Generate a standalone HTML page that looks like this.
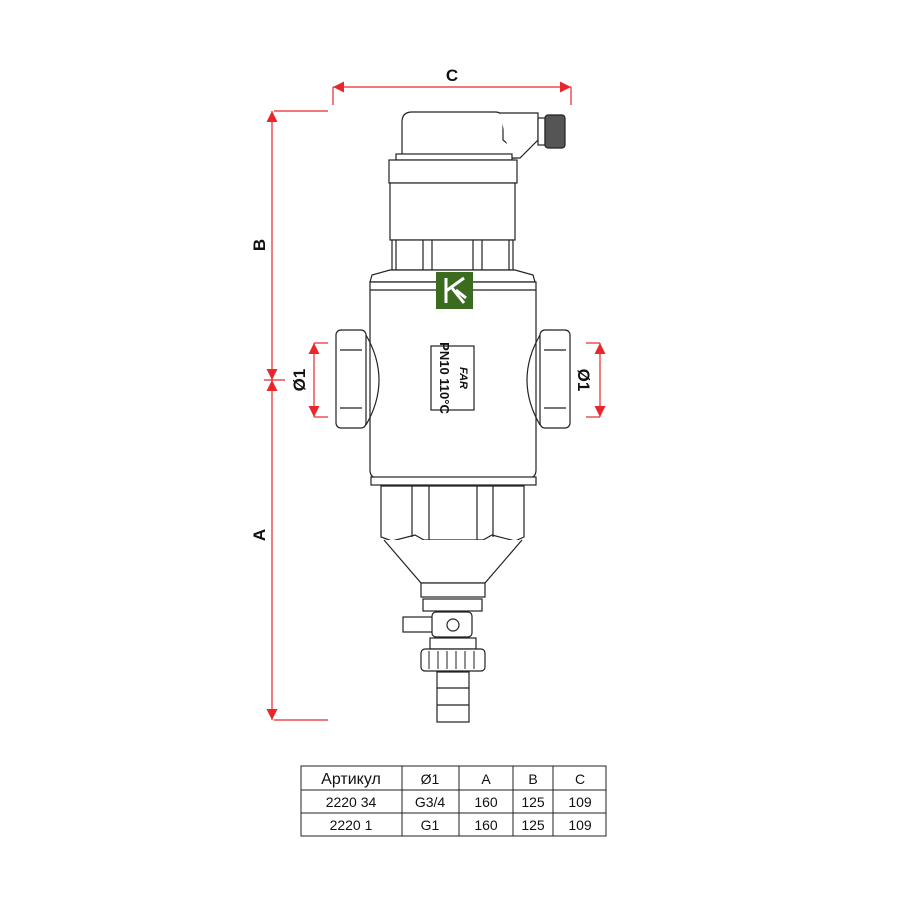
<!DOCTYPE html>
<html><head><meta charset="utf-8"><style>
body{margin:0;background:#fff;width:900px;height:900px;overflow:hidden}
svg{display:block}
</style></head><body>
<svg width="900" height="900" viewBox="0 0 900 900" xmlns="http://www.w3.org/2000/svg">
<defs>
<marker id="ar" viewBox="0 0 10 10" refX="10" refY="5" markerWidth="18" markerHeight="11" markerUnits="userSpaceOnUse" orient="auto-start-reverse"><path d="M0,0 L10,5 L0,10 z" fill="#e8262b"/></marker>
</defs>
<g stroke="#e8262b" stroke-width="1.2" fill="none">
<line x1="333" y1="87" x2="571" y2="87" marker-start="url(#ar)" marker-end="url(#ar)"/>
<line x1="333" y1="87" x2="333" y2="105"/><line x1="571" y1="87" x2="571" y2="105"/>
<line x1="274" y1="111" x2="328" y2="111"/>
<line x1="272" y1="111" x2="272" y2="380" marker-start="url(#ar)" marker-end="url(#ar)"/>
<line x1="272" y1="380" x2="272" y2="720" marker-start="url(#ar)" marker-end="url(#ar)"/>
<line x1="264" y1="380" x2="285" y2="380"/>
<line x1="274" y1="720" x2="328" y2="720"/>
<line x1="314" y1="343" x2="328" y2="343"/><line x1="314" y1="417" x2="328" y2="417"/>
<line x1="314" y1="343" x2="314" y2="417" marker-start="url(#ar)" marker-end="url(#ar)"/>
<line x1="586" y1="343" x2="600" y2="343"/><line x1="586" y1="417" x2="600" y2="417"/>
<line x1="600" y1="343" x2="600" y2="417" marker-start="url(#ar)" marker-end="url(#ar)"/>
</g>
<g font-family="Liberation Sans, sans-serif" font-weight="bold" font-size="17" fill="#111">
<text x="452" y="81" text-anchor="middle">C</text>
<text transform="translate(265,245) rotate(-90)" text-anchor="middle">B</text>
<text transform="translate(265,535) rotate(-90)" text-anchor="middle">A</text>
<text transform="translate(305,380) rotate(-90)" text-anchor="middle">Ø1</text>
<text transform="translate(578,380) rotate(90)" text-anchor="middle">Ø1</text>
</g>
<g stroke="#222" stroke-width="1.2" fill="#fff">
<path d="M402,158 V122 Q402,112 412,112 H495 Q503,112 503,120 V140 L515,150 V158 Z"/>
<path d="M500,113 H538 V140 L520,158 H510"/>
<rect x="538" y="118" width="7" height="27"/>
<rect x="545" y="115" width="20" height="33" rx="3" fill="#555"/>
<rect x="396" y="154" width="116" height="6"/>
<rect x="389" y="160" width="128" height="23"/>
<rect x="390" y="183" width="125" height="57"/>
<rect x="392" y="240" width="121" height="30"/>
<line x1="396" y1="240" x2="396" y2="270"/><line x1="423" y1="240" x2="423" y2="270"/>
<line x1="432" y1="240" x2="432" y2="270"/><line x1="473" y1="240" x2="473" y2="270"/>
<line x1="482" y1="240" x2="482" y2="270"/><line x1="509" y1="240" x2="509" y2="270"/>
<path d="M370,282 L372,275 L390,270 H515 L533,275 L535,282 Z"/>
<path d="M370,282 H536 V470 Q536,478 528,478 H378 Q370,478 370,470 Z"/>
<line x1="370" y1="290" x2="536" y2="290"/>
<path d="M366,335 Q392,380 366,425" fill="none"/>
<path d="M540,335 Q514,380 540,425" fill="none"/>
<rect x="336" y="330" width="30" height="98" rx="5"/>
<line x1="340" y1="350" x2="362" y2="350"/><line x1="340" y1="408" x2="362" y2="408"/>
<rect x="540" y="330" width="30" height="98" rx="5"/>
<line x1="544" y1="350" x2="566" y2="350"/><line x1="544" y1="408" x2="566" y2="408"/>
<rect x="431" y="346" width="43" height="64"/>
<rect x="371" y="477" width="165" height="8"/>
<path d="M381,486 H524 V537 L515,541 L492,535 L483,540 H424 L415,535 L392,541 L381,537 Z"/>
<line x1="412" y1="486" x2="412" y2="537"/><line x1="429" y1="486" x2="429" y2="540"/>
<line x1="477" y1="486" x2="477" y2="540"/><line x1="493" y1="486" x2="493" y2="537"/>
<path d="M384,540 L421,583 H485 L522,540"/>
<rect x="421" y="583" width="64" height="14"/>
<rect x="423" y="599" width="59" height="12"/>
<rect x="403" y="617" width="40" height="15"/>
<rect x="432" y="612" width="40" height="25" rx="4"/>
<circle cx="453" cy="625" r="6"/>
<rect x="430" y="638" width="46" height="11"/>
<rect x="421" y="649" width="64" height="22" rx="4"/>
<g stroke-width="1">
<line x1="429" y1="651" x2="429" y2="669"/><line x1="438" y1="651" x2="438" y2="669"/><line x1="447" y1="651" x2="447" y2="669"/>
<line x1="456" y1="651" x2="456" y2="669"/><line x1="465" y1="651" x2="465" y2="669"/><line x1="474" y1="651" x2="474" y2="669"/>
</g>
<rect x="437" y="672" width="32" height="50"/>
<line x1="437" y1="688" x2="469" y2="688"/><line x1="437" y1="705" x2="469" y2="705"/>
</g>
<text transform="translate(440,378) rotate(90)" text-anchor="middle" font-family="Liberation Sans, sans-serif" font-weight="bold" font-size="13" fill="#111">PN10 110°C</text>
<text transform="translate(460,378) rotate(90)" text-anchor="middle" font-family="Liberation Sans, sans-serif" font-weight="bold" font-style="italic" font-size="11" fill="#111">FAR</text>
<rect x="436" y="272" width="37" height="37" fill="#3a6b1f"/>
<path d="M446,278 V303 M446,291 L464,278 M452,288 L464,303 M456,290 L466,298" stroke="#fff" stroke-width="3" fill="none"/>
<g stroke="#222" stroke-width="1" fill="none">
<rect x="301" y="766" width="305" height="70"/>
<line x1="301" y1="790" x2="606" y2="790"/><line x1="301" y1="813" x2="606" y2="813"/>
<line x1="402" y1="766" x2="402" y2="836"/><line x1="459" y1="766" x2="459" y2="836"/>
<line x1="513" y1="766" x2="513" y2="836"/><line x1="553" y1="766" x2="553" y2="836"/>
</g>
<g font-family="Liberation Sans, sans-serif" font-size="14" fill="#111" text-anchor="middle">
<text x="351" y="784" font-size="16">Артикул</text><text x="430" y="784">Ø1</text><text x="486" y="784">A</text><text x="533" y="784">B</text><text x="580" y="784">C</text>
<text x="351" y="807">2220 34</text><text x="430" y="807">G3/4</text><text x="486" y="807">160</text><text x="533" y="807">125</text><text x="580" y="807">109</text>
<text x="351" y="830">2220 1</text><text x="430" y="830">G1</text><text x="486" y="830">160</text><text x="533" y="830">125</text><text x="580" y="830">109</text>
</g>
</svg>
</body></html>
